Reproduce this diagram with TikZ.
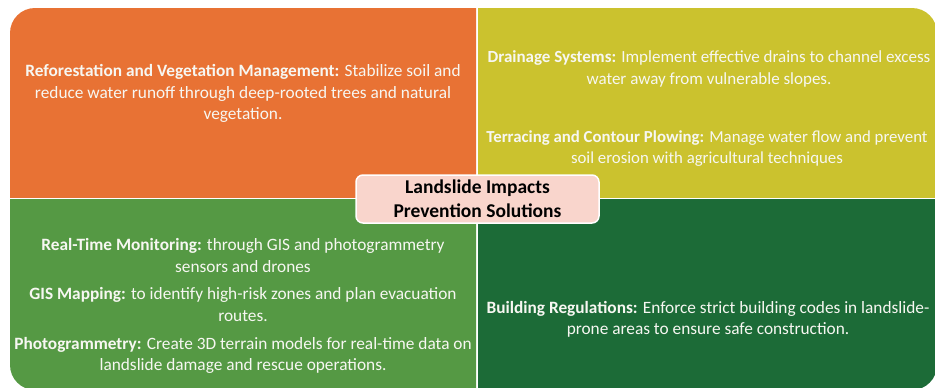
\documentclass[tikz,border=0pt]{standalone}
\usepackage{fontspec}
\setmainfont{Carlito}
\definecolor{qorange}{HTML}{E87234}
\definecolor{qyellow}{HTML}{CBC22E}
\definecolor{qlgreen}{HTML}{559944}
\definecolor{qdgreen}{HTML}{1C6B37}
\definecolor{qpink}{HTML}{F9D5CC}
\definecolor{qtext}{HTML}{F7F7F2}
\tikzset{
  bodytext/.style={text=qtext, align=center, inner sep=0pt, font=\fontsize{17.3}{21.5}\selectfont},
  titlebox/.style={fill=qpink, draw=white, line width=1.5pt, rounded corners=7pt,
    minimum width=243pt, minimum height=48pt, align=center, inner sep=0pt,
    font=\bfseries\fontsize{19.5}{24}\selectfont, text=black}
}
\begin{document}
\begin{tikzpicture}[x=1pt,y=-1pt]
\useasboundingbox (0,0) rectangle (935,388);
% top-left
\begin{scope}
\clip (10,8) rectangle (476,197.5);
\fill[qorange, rounded corners=25pt] (10,8) rectangle (540,260);
\end{scope}
% top-right
\begin{scope}
\clip (478,8) rectangle (937,197.5);
\fill[qyellow, rounded corners=25pt] (420,8) rectangle (937,260);
\end{scope}
% bottom-left
\begin{scope}
\clip (10,199.5) rectangle (476,390);
\fill[qlgreen, rounded corners=25pt] (10,140) rectangle (540,390);
\end{scope}
% bottom-right
\begin{scope}
\clip (478,199.5) rectangle (937,390);
\fill[qdgreen, rounded corners=25pt] (420,140) rectangle (937,390);
\end{scope}

\node[bodytext] (reforest) at (243,93.5) {\textbf{Reforestation and Vegetation Management:} Stabilize soil and\\ reduce water runoff through deep-rooted trees and natural\\ vegetation.};
\node[bodytext, font=\fontsize{17}{21.5}\selectfont] (drain) at (709,69) {\textbf{Drainage Systems:} Implement effective drains to channel excess\\ water away from vulnerable slopes.};
\node[bodytext, font=\fontsize{16.8}{21.5}\selectfont] (terrace) at (707,148.5) {\textbf{Terracing and Contour Plowing:} Manage water flow and prevent\\ soil erosion with agricultural techniques};
\node[bodytext] (monitor) at (243,255.5) {\textbf{Real-Time Monitoring:} through GIS and photogrammetry\\ sensors and drones};
\node[bodytext] (gis) at (243,304.5) {\textbf{GIS Mapping:} to identify high-risk zones and plan evacuation\\ routes.};
\node[bodytext] (photo) at (243,355.5) {\textbf{Photogrammetry:} Create 3D terrain models for real-time data on\\ landslide damage and rescue operations.};
\node[bodytext] (building) at (708,319.5) {\textbf{Building Regulations:} Enforce strict building codes in landslide-\\ prone areas to ensure safe construction.};

\node[titlebox] (title) at (477.5,199) {Landslide Impacts\\ Prevention Solutions};
\end{tikzpicture}
\end{document}
